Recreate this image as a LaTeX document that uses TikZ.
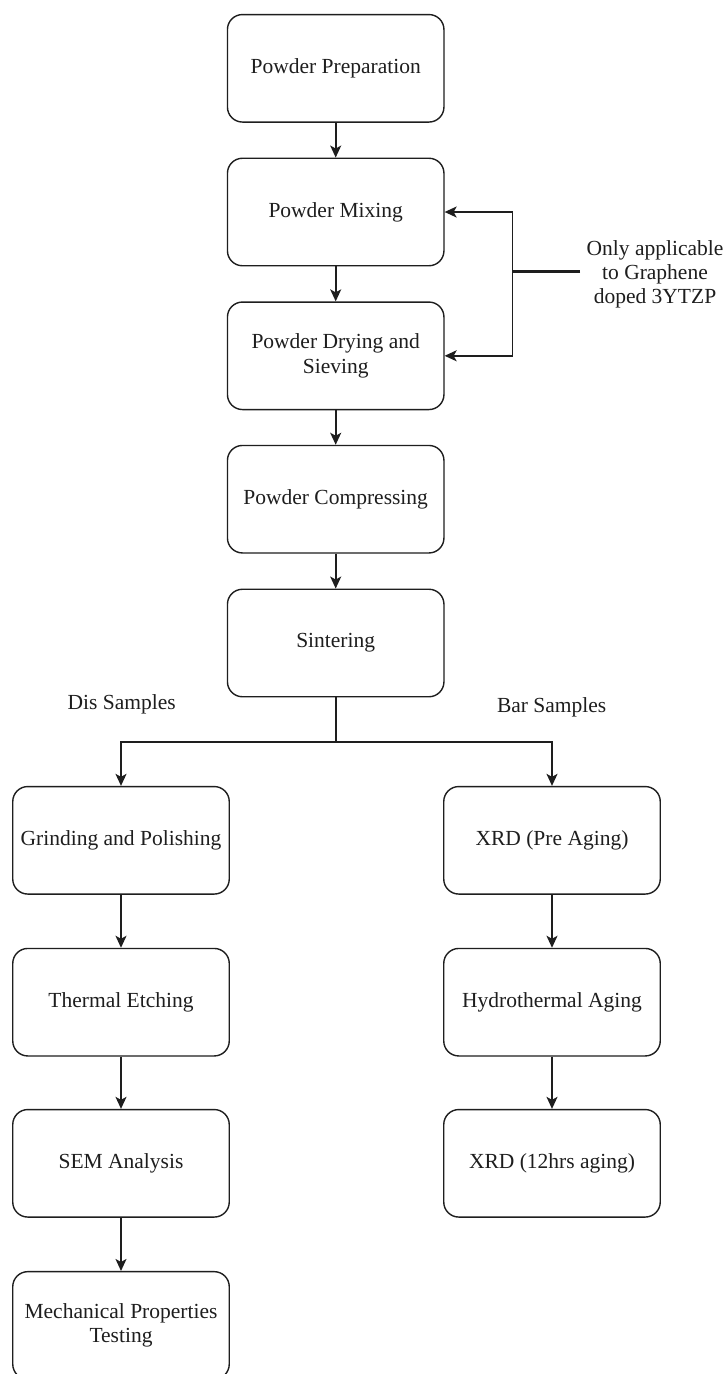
\documentclass[tikz,border=0pt]{standalone}
\usepackage{fontspec}
\setmainfont{Liberation Serif}
\usetikzlibrary{arrows.meta}
\definecolor{ink}{HTML}{1E1E1E}
\begin{document}
\begin{tikzpicture}[x=1pt,y=-1pt,
  stepbox/.style={draw=ink,line width=1.4pt,fill=white,rounded corners=15pt,
    minimum width=216.5pt,minimum height=107.5pt,inner sep=0pt,align=center,
    text=ink,font=\fontsize{21.5}{24.5}\selectfont},
  lbl/.style={text=ink,align=center,inner sep=0pt,font=\fontsize{21.5}{24}\selectfont},
  flow/.style={draw=ink,line width=1.6pt,-{Stealth[length=12pt,width=11pt,inset=3pt]}},
  plain/.style={draw=ink,line width=1.6pt},
  stub/.style={draw=ink,line width=3.2pt}]
\useasboundingbox (0,0) rectangle (728,1374);
\fill[white] (0,0) rectangle (728,1374);
% main column
\node[stepbox] (prep) at (335.7,68.3) {Powder Preparation};
\node[stepbox] (mix)  at (335.7,212) {Powder Mixing};
\node[stepbox] (dry)  at (335.7,355.8) {Powder Drying and\\Sieving};
\node[stepbox] (comp) at (335.7,499.2) {Powder Compressing};
\node[stepbox] (sint) at (335.7,643) {Sintering};
% left column
\node[stepbox] (grind) at (121,840.3) {Grinding and Polishing};
\node[stepbox] (therm) at (121,1002.2) {Thermal Etching};
\node[stepbox] (sem)   at (121,1163.3) {SEM Analysis};
\node[stepbox] (mech)  at (121,1325.4) {Mechanical Properties\\Testing};
% right column
\node[stepbox] (xrda)  at (552,840.3) {XRD (Pre Aging)};
\node[stepbox] (hydro) at (552,1002.2) {Hydrothermal Aging};
\node[stepbox] (xrdb)  at (552,1163.3) {XRD (12hrs aging)};
% labels
\node[lbl] (note) at (655,274) {Only applicable\\to Graphene\\doped 3YTZP};
\node[lbl] (dis) at (121.7,704) {Dis Samples};
\node[lbl] (bar) at (551.7,707) {Bar Samples};
% connectors main
\draw[flow] (prep) -- (mix);
\draw[flow] (mix) -- (dry);
\draw[flow] (dry) -- (comp);
\draw[flow] (comp) -- (sint);
% feedback
\coordinate (j) at (512.3,271.7);
\coordinate (noteend) at (580,271.7);
\draw[stub] (noteend) -- (j);
\draw[flow] (j) |- (mix.east);
\draw[flow] (j) |- (dry.east);
% split
\coordinate (split) at (335.7,741.7);
\draw[plain] (sint.south) -- (split);
\draw[flow] (split) -| (grind.north);
\draw[flow] (split) -| (xrda.north);
% left chain
\draw[flow] (grind) -- (therm);
\draw[flow] (therm) -- (sem);
\draw[flow] (sem) -- (mech);
% right chain
\draw[flow] (xrda) -- (hydro);
\draw[flow] (hydro) -- (xrdb);
\end{tikzpicture}
\end{document}
